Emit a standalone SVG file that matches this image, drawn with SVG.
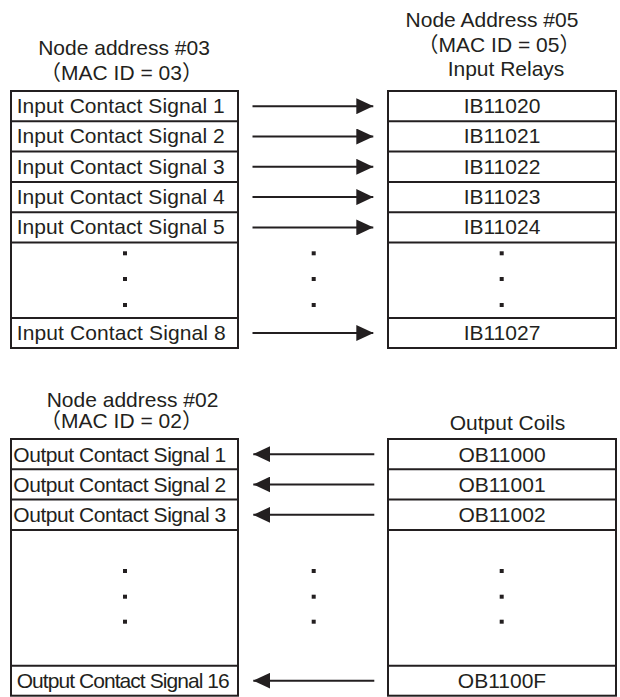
<svg xmlns="http://www.w3.org/2000/svg" width="620" height="697" viewBox="0 0 620 697">
<style>
text{font-family:"Liberation Sans","Noto Sans CJK JP",Arial,sans-serif;font-size:21px;fill:#231f20}
.c{text-anchor:middle}
.box{fill:#fff;stroke:#231f20;stroke-width:2}
.sep{stroke:#231f20;stroke-width:2}
.ln{stroke:#231f20;stroke-width:2;fill:none}
.dot{fill:#231f20}
</style>
<defs>
<marker id="ah" markerWidth="17" markerHeight="16" refX="17" refY="8" orient="auto" markerUnits="userSpaceOnUse"><path d="M0,0 L17,8 L0,16 Z" fill="#231f20"/></marker>
</defs>
<rect width="620" height="697" fill="#fff"/>
<g id="hdr-in-left">
<text class="c" x="124" y="55">Node address #03</text>
<text class="c" x="121.5" y="80">（MAC ID = 03）</text>
</g>
<g id="hdr-in-right">
<text class="c" x="492" y="27">Node Address #05</text>
<text class="c" x="499" y="51.5">（MAC ID = 05）</text>
<text class="c" x="506" y="76">Input Relays</text>
</g>
<g id="node03">
<rect class="box" x="11" y="91" width="227" height="257"/>
<line class="sep" x1="11" y1="121.3" x2="238" y2="121.3"/>
<line class="sep" x1="11" y1="151.6" x2="238" y2="151.6"/>
<line class="sep" x1="11" y1="181.9" x2="238" y2="181.9"/>
<line class="sep" x1="11" y1="212.2" x2="238" y2="212.2"/>
<line class="sep" x1="11" y1="242.5" x2="238" y2="242.5"/>
<line class="sep" x1="11" y1="318" x2="238" y2="318"/>
<text x="16.7" y="113" textLength="208">Input Contact Signal 1</text>
<text x="16.7" y="143.3" textLength="208">Input Contact Signal 2</text>
<text x="16.7" y="173.6" textLength="208">Input Contact Signal 3</text>
<text x="16.7" y="203.9" textLength="208">Input Contact Signal 4</text>
<text x="16.7" y="234.2" textLength="208">Input Contact Signal 5</text>
<text x="16.7" y="340" textLength="209">Input Contact Signal 8</text>
<rect class="dot" x="123" y="251.3" width="4" height="4"/>
<rect class="dot" x="123" y="277" width="4" height="4"/>
<rect class="dot" x="123" y="303" width="4" height="4"/>
</g>
<g id="node05">
<rect class="box" x="388" y="91" width="228" height="257"/>
<line class="sep" x1="388" y1="121.3" x2="616" y2="121.3"/>
<line class="sep" x1="388" y1="151.6" x2="616" y2="151.6"/>
<line class="sep" x1="388" y1="181.9" x2="616" y2="181.9"/>
<line class="sep" x1="388" y1="212.2" x2="616" y2="212.2"/>
<line class="sep" x1="388" y1="242.5" x2="616" y2="242.5"/>
<line class="sep" x1="388" y1="318" x2="616" y2="318"/>
<text class="c" x="502" y="113">IB11020</text>
<text class="c" x="502" y="143.3">IB11021</text>
<text class="c" x="502" y="173.6">IB11022</text>
<text class="c" x="502" y="203.9">IB11023</text>
<text class="c" x="502" y="234.2">IB11024</text>
<text class="c" x="502" y="340">IB11027</text>
<rect class="dot" x="499.7" y="251.3" width="4" height="4"/>
<rect class="dot" x="499.7" y="277" width="4" height="4"/>
<rect class="dot" x="499.7" y="303" width="4" height="4"/>
</g>
<g id="hdr-out-left">
<text class="c" x="132.5" y="406.5">Node address #02</text>
<text class="c" x="121.5" y="428.3">（MAC ID = 02）</text>
</g>
<g id="hdr-out-right">
<text class="c" x="507.5" y="430">Output Coils</text>
</g>
<g id="node02">
<rect class="box" x="11" y="439" width="227" height="256.7"/>
<line class="sep" x1="11" y1="469.3" x2="238" y2="469.3"/>
<line class="sep" x1="11" y1="499.6" x2="238" y2="499.6"/>
<line class="sep" x1="11" y1="530" x2="238" y2="530"/>
<line class="sep" x1="11" y1="665.7" x2="238" y2="665.7"/>
<text x="13.3" y="461.5" textLength="213">Output Contact Signal 1</text>
<text x="13.3" y="491.8" textLength="213">Output Contact Signal 2</text>
<text x="13.3" y="522.1" textLength="213">Output Contact Signal 3</text>
<text x="16.7" y="687.7" textLength="213">Output Contact Signal 16</text>
<rect class="dot" x="123" y="569" width="4" height="4"/>
<rect class="dot" x="123" y="594.7" width="4" height="4"/>
<rect class="dot" x="123" y="619.7" width="4" height="4"/>
</g>
<g id="outcoils">
<rect class="box" x="388" y="439" width="228" height="256.7"/>
<line class="sep" x1="388" y1="469.3" x2="616" y2="469.3"/>
<line class="sep" x1="388" y1="499.6" x2="616" y2="499.6"/>
<line class="sep" x1="388" y1="530" x2="616" y2="530"/>
<line class="sep" x1="388" y1="665.7" x2="616" y2="665.7"/>
<text class="c" x="502" y="461.5">OB11000</text>
<text class="c" x="502" y="491.8">OB11001</text>
<text class="c" x="502" y="522.1">OB11002</text>
<text class="c" x="502" y="687.7">OB1100F</text>
<rect class="dot" x="499.7" y="569" width="4" height="4"/>
<rect class="dot" x="499.7" y="594.7" width="4" height="4"/>
<rect class="dot" x="499.7" y="619.7" width="4" height="4"/>
</g>
<g id="connectors">
<line class="ln" x1="252.5" y1="106.2" x2="373.3" y2="106.2" marker-end="url(#ah)"/>
<line class="ln" x1="252.5" y1="136.5" x2="373.3" y2="136.5" marker-end="url(#ah)"/>
<line class="ln" x1="252.5" y1="166.8" x2="373.3" y2="166.8" marker-end="url(#ah)"/>
<line class="ln" x1="252.5" y1="197.1" x2="373.3" y2="197.1" marker-end="url(#ah)"/>
<line class="ln" x1="252.5" y1="227.4" x2="373.3" y2="227.4" marker-end="url(#ah)"/>
<line class="ln" x1="252.5" y1="333" x2="373.3" y2="333" marker-end="url(#ah)"/>
<rect class="dot" x="311.7" y="251.3" width="4" height="4"/>
<rect class="dot" x="311.7" y="277" width="4" height="4"/>
<rect class="dot" x="311.7" y="303" width="4" height="4"/>
<line class="ln" x1="374.3" y1="454.2" x2="253.3" y2="454.2" marker-end="url(#ah)"/>
<line class="ln" x1="374.3" y1="484.5" x2="253.3" y2="484.5" marker-end="url(#ah)"/>
<line class="ln" x1="374.3" y1="514.8" x2="253.3" y2="514.8" marker-end="url(#ah)"/>
<line class="ln" x1="374.3" y1="680.7" x2="253.3" y2="680.7" marker-end="url(#ah)"/>
<rect class="dot" x="311.7" y="569" width="4" height="4"/>
<rect class="dot" x="311.7" y="594.7" width="4" height="4"/>
<rect class="dot" x="311.7" y="619.7" width="4" height="4"/>
</g>
</svg>
